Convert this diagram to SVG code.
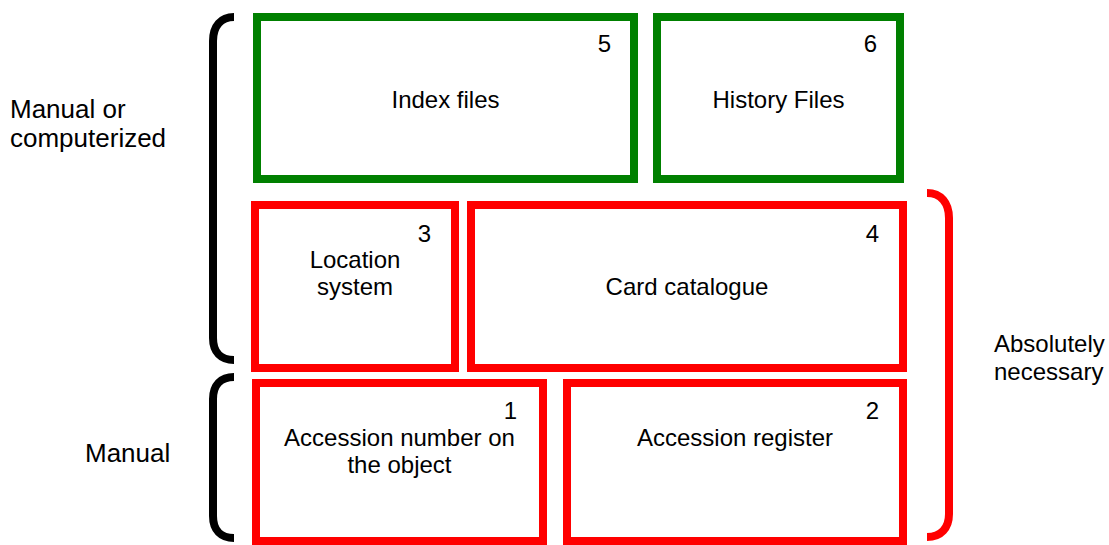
<svg xmlns="http://www.w3.org/2000/svg" width="1109" height="545" viewBox="0 0 1109 545">
  <style>
    .box { fill: #ffffff; stroke-width: 8; }
    .green { stroke: #008000; }
    .red { stroke: #ff0000; }
    .brace { fill: none; stroke-width: 8; stroke-linecap: butt; }
    text { font-family: "Liberation Sans", Arial, sans-serif; fill: #000000; }
    .lbl { font-size: 24px; text-anchor: middle; }
    .num { font-size: 24px; text-anchor: end; }
    .side { font-size: 26px; }
    .side2 { font-size: 24px; }
  </style>
  <rect width="1109" height="545" fill="#ffffff"/>

  <g id="connectors">
    <path class="brace" stroke="#000000" d="M 234 17 C 221 17 213 26 213 41 L 213 338 C 213 352 221 360 234 360"/>
    <path class="brace" stroke="#000000" d="M 234 377 C 221 377 213 385 213 399 L 213 516 C 213 530 221 538 234 538"/>
    <path class="brace" stroke="#ff0000" d="M 927 193 C 941 193 949 203 949 218 L 949 514 C 949 528 941 537 927 537"/>
  </g>

  <g id="label-manual-or-computerized">
    <text class="side" x="10" y="118">Manual or</text>
    <text class="side" x="10" y="147">computerized</text>
  </g>
  <g id="label-manual">
    <text class="side" x="85" y="462">Manual</text>
  </g>
  <g id="label-absolutely-necessary">
    <text class="side2" x="994" y="352">Absolutely</text>
    <text class="side2" x="994" y="380">necessary</text>
  </g>

  <g id="node5">
    <rect class="box green" x="257" y="17" width="377" height="162"/>
    <text class="num" x="611" y="52">5</text>
    <text class="lbl" x="445.5" y="108">Index files</text>
  </g>
  <g id="node6">
    <rect class="box green" x="657" y="17" width="243" height="162"/>
    <text class="num" x="877" y="52">6</text>
    <text class="lbl" x="778.5" y="108">History Files</text>
  </g>
  <g id="node3">
    <rect class="box red" x="255" y="205" width="200" height="163"/>
    <text class="num" x="431" y="242">3</text>
    <text class="lbl" x="355" y="268">Location</text>
    <text class="lbl" x="355" y="295">system</text>
  </g>
  <g id="node4">
    <rect class="box red" x="471" y="205" width="432" height="163"/>
    <text class="num" x="879" y="242">4</text>
    <text class="lbl" x="687" y="295">Card catalogue</text>
  </g>
  <g id="node1">
    <rect class="box red" x="256" y="383" width="287" height="158"/>
    <text class="num" x="517" y="419">1</text>
    <text class="lbl" x="399.5" y="446">Accession number on</text>
    <text class="lbl" x="399.5" y="473">the object</text>
  </g>
  <g id="node2">
    <rect class="box red" x="567" y="383" width="336" height="158"/>
    <text class="num" x="879" y="419">2</text>
    <text class="lbl" x="735" y="446">Accession register</text>
  </g>
</svg>
